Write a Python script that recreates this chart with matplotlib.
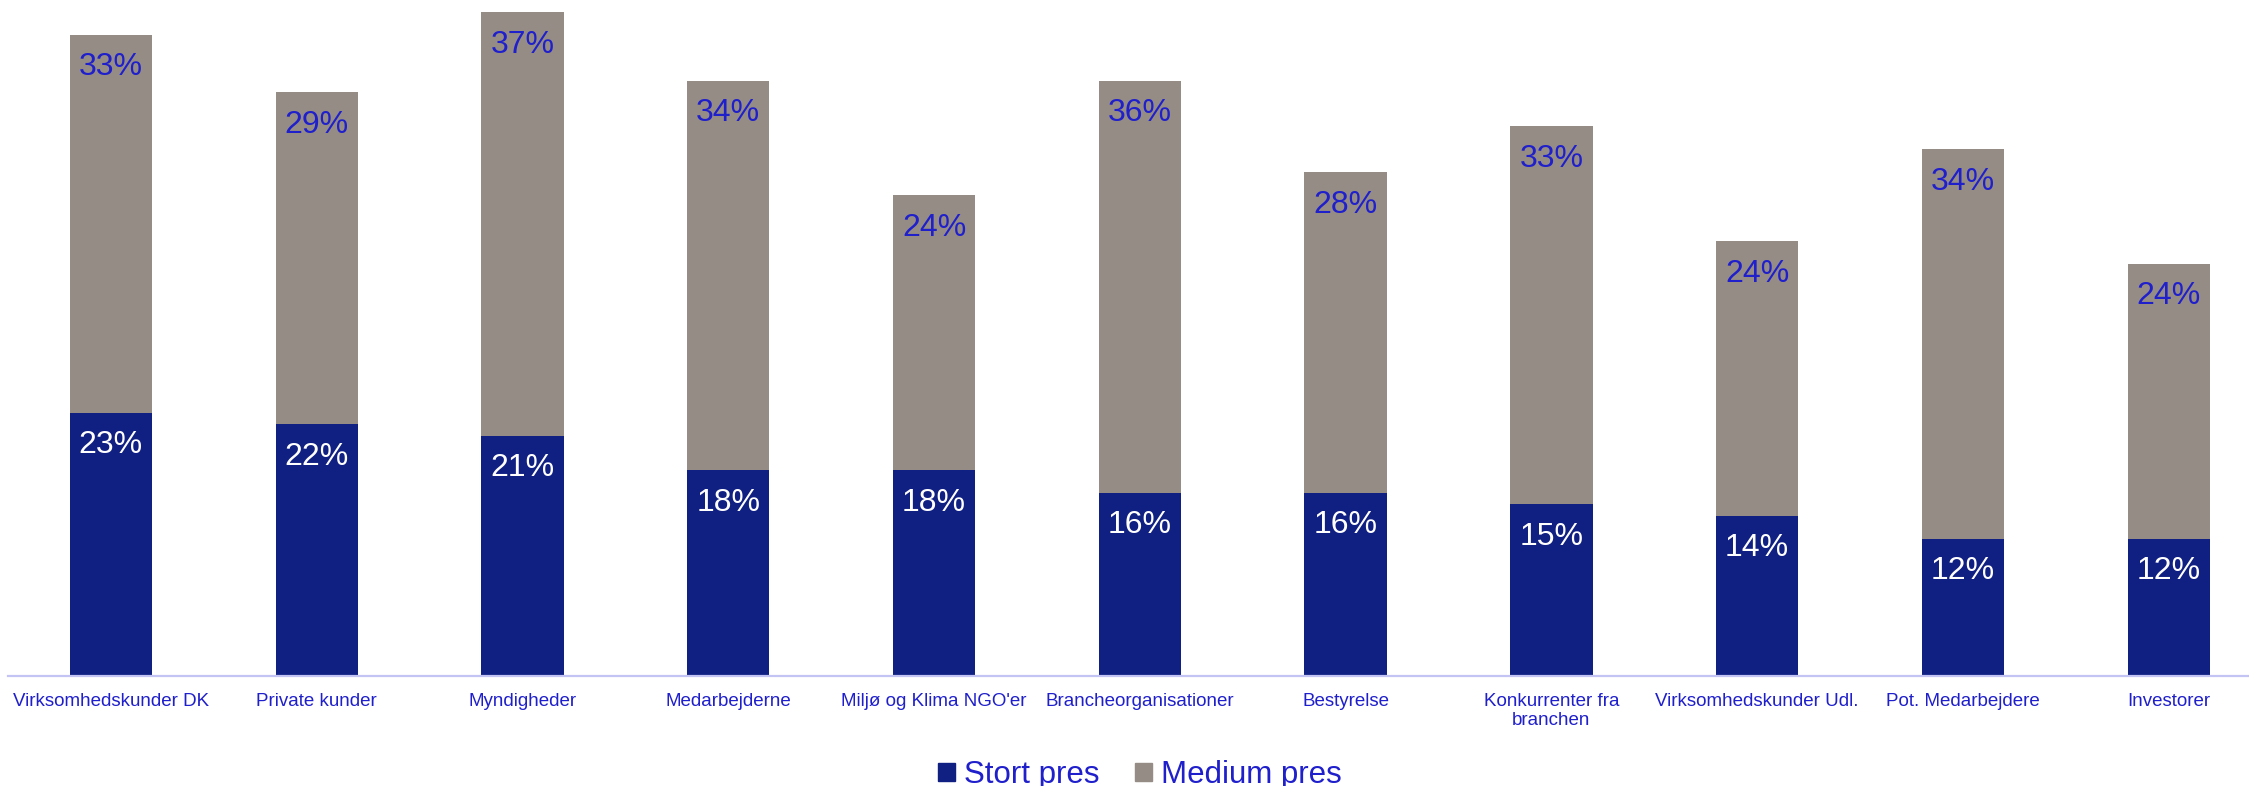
import matplotlib.pyplot as plt
from matplotlib.patches import Patch
import numpy as np

plt.rcParams['font.family'] = ['Liberation Sans', 'DejaVu Sans']

kategorier = ["Virksomhedskunder DK", "Private kunder", "Myndigheder", "Medarbejderne",
              "Miljø og Klima NGO'er", "Brancheorganisationer", "Bestyrelse",
              "Konkurrenter fra\nbranchen", "Virksomhedskunder Udl.", "Pot. Medarbejdere",
              "Investorer"]
stort_pres = [23, 22, 21, 18, 18, 16, 16, 15, 14, 12, 12]
medium_pres = [33, 29, 37, 34, 24, 36, 28, 33, 24, 34, 24]

BLAA = '#101f82'
GRAA = '#958c85'
TEKST = '#1f1fcc'


def main():
    fig = plt.figure(figsize=(22.49, 7.86), dpi=100)
    ax = fig.add_axes([8 / 2249, 110 / 786, 1 - 8 / 2249, 676 / 786])

    x = np.arange(len(kategorier))
    ax.bar(x, stort_pres, width=0.40, color=BLAA, edgecolor='none')
    ax.bar(x, medium_pres, width=0.40, bottom=stort_pres, color=GRAA, edgecolor='none')

    # etiketter lige under toppen af hvert segment
    for i in range(len(x)):
        ax.annotate(f"{stort_pres[i]}%", (x[i], stort_pres[i]), xytext=(0, -23.5),
                    textcoords='offset points', ha='center', va='center',
                    fontsize=23, color='white')
        top = stort_pres[i] + medium_pres[i]
        ax.annotate(f"{medium_pres[i]}%", (x[i], top), xytext=(0, -23.5),
                    textcoords='offset points', ha='center', va='center',
                    fontsize=23, color=TEKST)

    ax.set_xlim(-0.5, 10.39)
    ax.set_ylim(0, 59.04)
    ax.set_xticks(x)
    ax.set_xticklabels(kategorier, fontsize=13.5, color=TEKST)
    for lbl in ax.get_xticklabels():
        lbl.set_linespacing(1.2)
    ax.tick_params(axis='x', length=0, pad=12)
    ax.set_yticks([])
    for s in ['top', 'right', 'left']:
        ax.spines[s].set_visible(False)
    ax.spines['bottom'].set_color('#c4c4f4')
    ax.spines['bottom'].set_linewidth(1.6)

    handles = [Patch(color=BLAA, label='Stort pres'), Patch(color=GRAA, label='Medium pres')]
    leg = fig.legend(handles=handles, loc='center', bbox_to_anchor=(1140 / 2249, 1 - 775 / 786),
                     ncol=2, frameon=False, fontsize=22.5, handlelength=0.52, handleheight=0.52,
                     handletextpad=0.3, columnspacing=1.15, borderpad=0, borderaxespad=0)
    for t in leg.get_texts():
        t.set_color(TEKST)

    plt.savefig('out.png', dpi=100)


if __name__ == "__main__":
    main()
